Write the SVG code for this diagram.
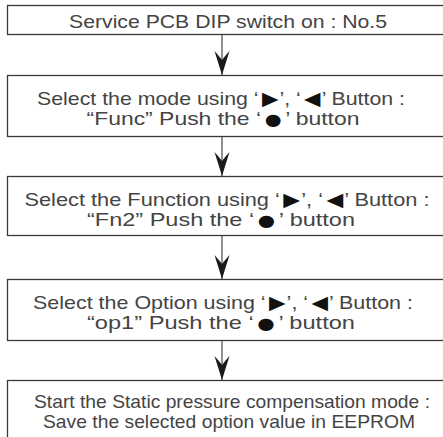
<svg xmlns="http://www.w3.org/2000/svg" width="443" height="437" viewBox="0 0 443 437">
<defs>
<style>
.box{fill:#fff;stroke:#3a3a3a;stroke-width:1.3}
.t{font-family:"Liberation Sans",Arial,sans-serif;font-size:19px;fill:#444;text-anchor:middle}
.s{font-family:"DejaVu Sans",sans-serif;font-size:19px;fill:#111}
.d{font-family:"DejaVu Sans",sans-serif;font-size:16px;fill:#111}
.ln{stroke:#555;stroke-width:1.3;fill:none}
.ah{fill:#1a1a1a}
</style>
</defs>
<rect width="443" height="437" fill="#fff"/>
<g id="connectors">
<line class="ln" x1="222" y1="34" x2="222" y2="75"/>
<path class="ah" d="M222,75 L214.5,51 Q219,56 222,60 Q225,56 229.5,51 Z"/>
<line class="ln" x1="222" y1="136" x2="222" y2="176"/>
<path class="ah" d="M222,176 L214.5,152 Q219,157 222,161 Q225,157 229.5,152 Z"/>
<line class="ln" x1="222" y1="235" x2="222" y2="279"/>
<path class="ah" d="M222,279 L214.5,255 Q219,260 222,264 Q225,260 229.5,255 Z"/>
<line class="ln" x1="222" y1="340" x2="222" y2="380"/>
<path class="ah" d="M222,380 L214.5,356 Q219,361 222,365 Q225,361 229.5,356 Z"/>
</g>
<g id="n1">
<rect class="box" x="7.5" y="5.5" width="450" height="29"/>
<text class="t" x="228" y="28" textLength="318" lengthAdjust="spacingAndGlyphs">Service PCB DIP switch on : No.5</text>
</g>
<g id="n2">
<rect class="box" x="7.5" y="75.5" width="450" height="61"/>
<text class="t" x="221" y="105" textLength="368" lengthAdjust="spacingAndGlyphs">Select the mode using ‘<tspan class="s" dx="3">▶</tspan><tspan dx="1">’, ‘</tspan><tspan class="s" dx="3">◀</tspan><tspan dx="1">’ Button :</tspan></text>
<text class="t" x="223" y="125" textLength="273" lengthAdjust="spacingAndGlyphs">“Func” Push the ‘<tspan class="d" dx="3">●</tspan><tspan dx="3">’ button</tspan></text>
</g>
<g id="n3">
<rect class="box" x="7.5" y="176.5" width="450" height="59"/>
<text class="t" x="227" y="206" textLength="405" lengthAdjust="spacingAndGlyphs">Select the Function using ‘<tspan class="s" dx="3">▶</tspan><tspan dx="1">’, ‘</tspan><tspan class="s" dx="3">◀</tspan><tspan dx="1">’ Button :</tspan></text>
<text class="t" x="221" y="226" textLength="268" lengthAdjust="spacingAndGlyphs">“Fn2” Push the ‘<tspan class="d" dx="3">●</tspan><tspan dx="3">’ button</tspan></text>
</g>
<g id="n4">
<rect class="box" x="7.5" y="279.5" width="450" height="61"/>
<text class="t" x="223" y="309" textLength="380" lengthAdjust="spacingAndGlyphs">Select the Option using ‘<tspan class="s" dx="3">▶</tspan><tspan dx="1">’, ‘</tspan><tspan class="s" dx="3">◀</tspan><tspan dx="1">’ Button :</tspan></text>
<text class="t" x="221" y="329" textLength="268" lengthAdjust="spacingAndGlyphs">“op1” Push the ‘<tspan class="d" dx="3">●</tspan><tspan dx="3">’ button</tspan></text>
</g>
<g id="n5">
<rect class="box" x="7.5" y="380.5" width="450" height="70"/>
<text class="t" x="232" y="408" textLength="396" lengthAdjust="spacingAndGlyphs">Start the Static pressure compensation mode :</text>
<text class="t" x="229" y="428" textLength="372" lengthAdjust="spacingAndGlyphs">Save the selected option value in EEPROM</text>
</g>
</svg>
